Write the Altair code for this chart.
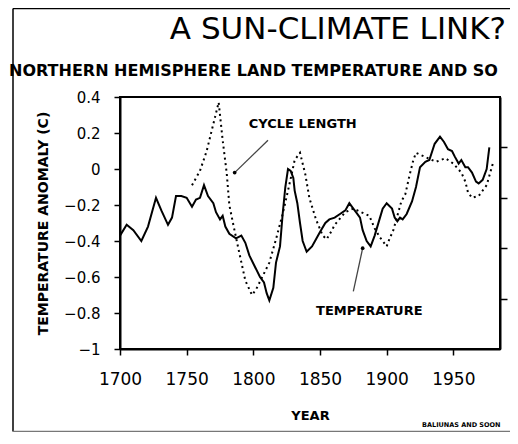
import altair as alt
import pandas as pd

# ---- data ----
temp_year = [1700, 1705, 1710, 1716, 1721, 1727, 1731, 1736, 1739, 1742,
             1746, 1750, 1754, 1757, 1760, 1763, 1766, 1770, 1772, 1775,
             1777, 1779, 1782, 1787, 1791, 1794, 1797, 1801, 1805, 1808,
             1810, 1812, 1815, 1817, 1820, 1822, 1824, 1826, 1828, 1830,
             1831, 1833, 1835, 1837, 1840, 1844, 1847, 1850, 1854, 1857,
             1861, 1865, 1869, 1872, 1875, 1877, 1880, 1882, 1885, 1888,
             1891, 1895, 1897, 1900, 1904, 1906, 1908, 1910, 1912, 1915,
             1919, 1922, 1925, 1929, 1932, 1936, 1940, 1943, 1946, 1949,
             1951, 1954, 1956, 1959, 1961, 1964, 1967, 1969, 1972, 1975,
             1977]
temp_val = [-0.37, -0.31, -0.34, -0.40, -0.32, -0.16, -0.23, -0.31, -0.27, -0.15,
            -0.15, -0.16, -0.21, -0.17, -0.16, -0.09, -0.15, -0.19, -0.24, -0.28,
            -0.26, -0.32, -0.36, -0.385, -0.37, -0.41, -0.48, -0.54, -0.60, -0.63,
            -0.69, -0.73, -0.66, -0.52, -0.43, -0.25, -0.10, 0.00, -0.01, -0.05,
            -0.12, -0.19, -0.30, -0.40, -0.46, -0.43, -0.39, -0.35, -0.30, -0.28,
            -0.27, -0.25, -0.23, -0.19, -0.22, -0.24, -0.27, -0.34, -0.40, -0.43,
            -0.37, -0.27, -0.22, -0.19, -0.22, -0.27, -0.29, -0.27, -0.28, -0.25,
            -0.18, -0.10, 0.01, 0.04, 0.05, 0.14, 0.18, 0.15, 0.11, 0.10,
            0.07, 0.03, 0.05, 0.01, 0.01, -0.02, -0.07, -0.08, -0.06, 0.00,
            0.12]

cyc_year = [1754, 1760, 1765, 1770, 1774, 1777, 1780, 1782, 1785, 1789,
            1794, 1799, 1802, 1812, 1817, 1822, 1826, 1829, 1831, 1835,
            1839, 1842, 1847, 1852, 1855, 1859, 1861, 1869, 1875, 1881,
            1887, 1891, 1895, 1900, 1902, 1905, 1911, 1914, 1917, 1920,
            1922, 1928, 1937, 1944, 1950, 1956, 1959, 1961, 1964, 1969,
            1975, 1980]
cyc_val = [-0.09, -0.01, 0.10, 0.25, 0.37, 0.16, -0.02, -0.20, -0.31, -0.45,
           -0.62, -0.70, -0.67, -0.52, -0.39, -0.25, -0.12, -0.02, 0.05, 0.09,
           -0.03, -0.16, -0.28, -0.37, -0.39, -0.34, -0.31, -0.24, -0.22, -0.24,
           -0.26, -0.33, -0.38, -0.43, -0.39, -0.34, -0.18, -0.14, -0.04, 0.05,
           0.09, 0.07, 0.04, 0.06, 0.03, -0.02, -0.07, -0.13, -0.16, -0.15,
           -0.09, 0.04]

x_ticks = [1700, 1750, 1800, 1850, 1900, 1950]
y_ticks = [0.4, 0.2, 0, -0.2, -0.4, -0.6, -0.8, -1]
right_ticks = [0.12, -0.16, -0.44, -0.72]

ann_text = ["CYCLE LENGTH", "TEMPERATURE"]
ann_text_x = [1837, 1887]
ann_text_y = [0.25, -0.79]
ptr_x = [1811, 1875]
ptr_y = [0.16, -0.68]
ptr_x2 = [1786, 1882]
ptr_y2 = [-0.02, -0.44]

title_text = ["A SUN-CLIMATE LINK?"]
subtitle_text = ["NORTHERN HEMISPHERE LAND TEMPERATURE AND SO"]
credit_text = ["BALIUNAS AND SOON"]

X_DOMAIN = [1700, 1985]
Y_DOMAIN = [-1, 0.4]

temp_df = pd.DataFrame({"year": temp_year, "anomaly": temp_val})
cyc_df = pd.DataFrame({"year": cyc_year, "anomaly": cyc_val})
ann_df = pd.DataFrame({"label": ann_text, "lx": ann_text_x, "ly": ann_text_y,
                       "px": ptr_x, "py": ptr_y, "px2": ptr_x2, "py2": ptr_y2})

FONT = "DejaVu Sans"

x_axis = alt.Axis(values=x_ticks, format="d", title="YEAR", labelFontSize=17,
                  labelFlush=False, tickSize=6, labelPadding=16,
                  titleFontSize=13, titleFontWeight="bold", titleY=66,
                  titleBaseline="middle")
x_scale = alt.Scale(domain=X_DOMAIN, nice=False, zero=False)
y_scale = alt.Scale(domain=Y_DOMAIN, nice=False, zero=False)


def xq(field):
    return alt.X(f"{field}:Q", scale=x_scale, axis=x_axis)


temp_line = alt.Chart(temp_df).mark_line(color="black", strokeWidth=2).encode(
    x=xq("year"),
    y=alt.Y("anomaly:Q", scale=y_scale,
            axis=alt.Axis(values=y_ticks, format="~g",
                          title="TEMPERATURE ANOMALY (C)",
                          labelFontSize=15, tickSize=6, labelPadding=14,
                          titleFontSize=14, titleFontWeight="bold",
                          titleX=-77, titleY=126, titleAngle=270,
                          titleAlign="center", titleBaseline="middle")),
)

cyc_line = alt.Chart(cyc_df).mark_line(
    color="black", strokeWidth=2, strokeDash=[2, 3.5], strokeCap="butt"
).encode(
    x=xq("year"),
    y=alt.Y("anomaly:Q", scale=y_scale,
            axis=alt.Axis(orient="right", values=right_ticks, labels=False,
                          title=None, tickSize=7)),
)

pointers = alt.Chart(ann_df).mark_rule(color="#444444", strokeWidth=1.3).encode(
    x=xq("px"), y=alt.Y("py:Q", scale=y_scale, axis=None),
    x2="px2:Q", y2="py2:Q",
)
pointer_ends = alt.Chart(ann_df).mark_point(
    filled=True, color="black", size=14, opacity=1
).encode(
    x=xq("px2"), y=alt.Y("py2:Q", scale=y_scale, axis=None),
)
labels = alt.Chart(ann_df).mark_text(
    font=FONT, fontSize=13, fontWeight="bold", color="black"
).encode(
    x=xq("lx"), y=alt.Y("ly:Q", scale=y_scale, axis=None), text="label:N",
)

title = alt.Chart(pd.DataFrame({"t": title_text})).mark_text(
    font=FONT, fontSize=31, align="right", baseline="alphabetic", color="black"
).encode(x=alt.value(386), y=alt.value(-58), text="t:N")

subtitle = alt.Chart(pd.DataFrame({"t": subtitle_text})).mark_text(
    font=FONT, fontSize=16, fontWeight="bold", align="left",
    baseline="alphabetic", color="black"
).encode(x=alt.value(-111), y=alt.value(-21), text="t:N")

credit = alt.Chart(pd.DataFrame({"t": credit_text})).mark_text(
    font=FONT, fontSize=6.5, fontWeight="bold", align="left",
    baseline="alphabetic", color="black"
).encode(x=alt.value(302), y=alt.value(330), text="t:N")

frame_df = pd.DataFrame({"k": [0]})
frame_left = alt.Chart(frame_df).mark_rule(color="black", strokeWidth=1.5).encode(
    x=alt.value(-107), y=alt.value(-88.5), y2=alt.value(334.5))
frame_top = alt.Chart(frame_df).mark_rule(color="black", strokeWidth=1.5).encode(
    x=alt.value(-107), x2=alt.value(390), y=alt.value(-88.5))
frame_bottom = alt.Chart(frame_df).mark_rule(color="#777777", strokeWidth=1.5).encode(
    x=alt.value(-107), x2=alt.value(390), y=alt.value(334.5))

chart = alt.layer(
    temp_line, cyc_line, pointers, pointer_ends, labels,
    title, subtitle, credit, frame_left, frame_top, frame_bottom
).resolve_scale(y="independent").properties(
    width=380, height=252,
    autosize=alt.AutoSizeParams(type="none"),
    padding={"left": 112, "top": 89, "right": 10, "bottom": 83},
    background="white",
).configure_view(
    stroke="black", strokeWidth=2
).configure_axis(
    domainColor="black", domainWidth=2, tickColor="black", tickWidth=1.5,
    labelFont=FONT, titleFont=FONT, labelColor="black", titleColor="black",
    grid=False,
)

chart.save("out.html", embed_options={"renderer": "svg", "actions": False})
